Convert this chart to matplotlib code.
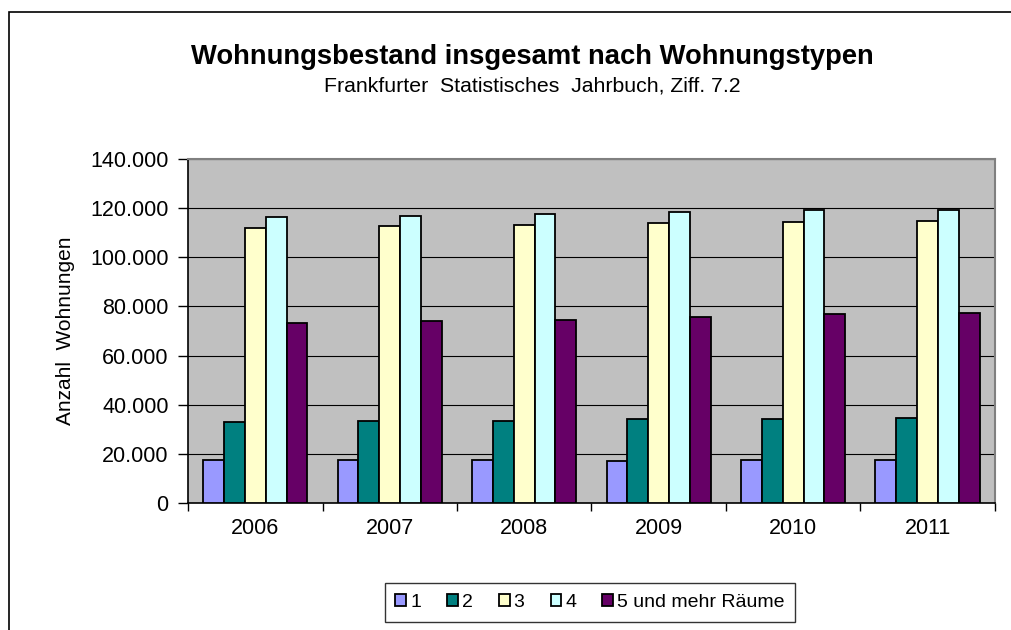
import numpy as np
import matplotlib.pyplot as plt
from matplotlib.patches import Rectangle
from matplotlib.ticker import FuncFormatter, MultipleLocator

plt.rcParams['font.family'] = ['Liberation Sans', 'DejaVu Sans']

# Wohnungsbestand nach Zahl der Raeume
years = ["2006", "2007", "2008", "2009", "2010", "2011"]
raeume_1 = [17700, 17700, 17700, 17200, 17700, 17700]
raeume_2 = [32800, 33400, 33400, 34000, 34000, 34500]
raeume_3 = [112100, 112800, 113300, 113900, 114400, 114900]
raeume_4 = [116400, 117000, 117500, 118500, 119200, 119400]
raeume_5 = [73100, 74200, 74600, 75800, 76800, 77300]
series_labels = ["1", "2", "3", "4", "5 und mehr Räume"]
colors = ["#9999FF", "#008080", "#FFFFCC", "#CCFFFF", "#660066"]


def tausender(v, pos):
    # deutsche Tausendertrennung mit Punkt
    return f"{int(v):,}".replace(",", ".")


fig = plt.figure(figsize=(10.11, 6.30), dpi=100)
ax = fig.add_axes([0.186, 0.2016, 0.798, 0.546])

# Rahmen um das ganze Diagramm (rechts/unten abgeschnitten)
fig.patches.append(Rectangle((9 / 1011, -0.05), 1.2, 1 - 12 / 630 + 0.05,
                             transform=fig.transFigure, fill=False,
                             edgecolor="black", linewidth=1.2))

x = np.arange(len(years))
w = 0.155
all_series = [raeume_1, raeume_2, raeume_3, raeume_4, raeume_5]
for i, (vals, lab, col) in enumerate(zip(all_series, series_labels, colors)):
    ax.bar(x + (i - 2) * w, vals, width=w, color=col, edgecolor="black",
           linewidth=1.3, label=lab, zorder=3)

ax.set_facecolor("#C0C0C0")
ax.set_xlim(-0.5, len(years) - 0.5)
ax.set_ylim(0, 140000)
ax.yaxis.set_major_locator(MultipleLocator(20000))
ax.yaxis.set_major_formatter(FuncFormatter(tausender))
ax.grid(axis="y", color="black", linewidth=0.8, zorder=1)

ax.set_xticks(x)
ax.set_xticklabels(years)
ax.set_xticks(np.arange(-0.5, len(years)), minor=True)
ax.tick_params(axis="x", which="major", length=0, pad=11, labelsize=15.5)
ax.tick_params(axis="x", which="minor", length=6, width=1, direction="out")
ax.tick_params(axis="y", length=7, width=1, direction="out", labelsize=15.5, pad=7)

for side in ["top", "right"]:
    ax.spines[side].set_color("#808080")
    ax.spines[side].set_linewidth(1.5)
for side in ["left", "bottom"]:
    ax.spines[side].set_color("black")
    ax.spines[side].set_linewidth(1.2)

ax.set_ylabel("Anzahl  Wohnungen", fontsize=15)
ax.yaxis.set_label_coords(-0.140, 0.5)

fig.text(0.527, 0.909, "Wohnungsbestand insgesamt nach Wohnungstypen",
         ha="center", va="center", fontsize=19.7, fontweight="bold")
fig.text(0.527, 0.863, "Frankfurter  Statistisches  Jahrbuch, Ziff. 7.2",
         ha="center", va="center", fontsize=15.3)

leg = fig.legend(loc="center", bbox_to_anchor=(0.5836, 0.0437), ncol=5,
                 fontsize=14, frameon=True, fancybox=False,
                 handlelength=0.55, handleheight=0.55, handletextpad=0.2,
                 columnspacing=1.35, borderpad=0.55)
leg.get_frame().set_edgecolor("black")
leg.get_frame().set_linewidth(1.0)

fig.savefig("out.png", dpi=100)
